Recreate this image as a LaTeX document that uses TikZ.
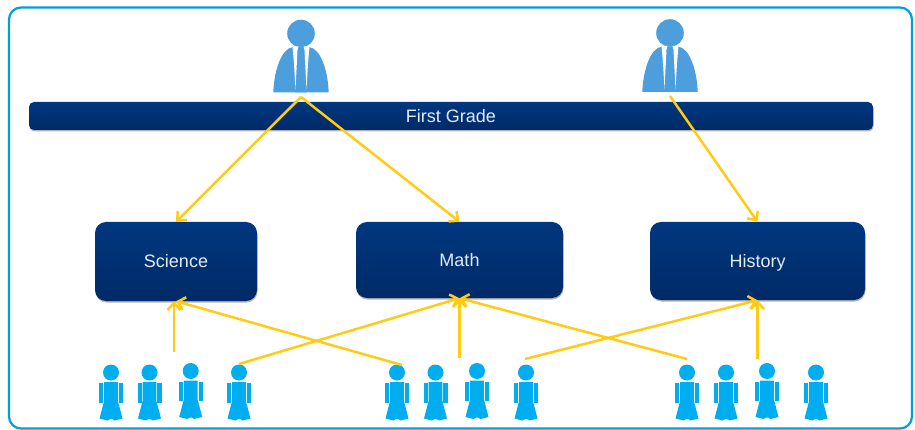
\documentclass[tikz,border=0pt]{standalone}
\usepackage{fontspec}
\setmainfont{Liberation Sans}
\usetikzlibrary{arrows.meta,shadows}
\definecolor{framecol}{HTML}{009FDA}
\definecolor{barTop}{HTML}{003780}
\definecolor{barBot}{HTML}{002A66}
\definecolor{teacherCol}{HTML}{4C9FDC}
\definecolor{studentCol}{HTML}{00AEEF}
\definecolor{linkCol}{HTML}{FFCB14}
\definecolor{labelCol}{HTML}{E4EBF6}
\tikzset{
  box/.style={rounded corners=11pt,top color=barTop,bottom color=barBot,inner sep=0pt,
    text=labelCol,font=\fontsize{18}{20}\selectfont,text height=15pt,text depth=2.5pt,
    drop shadow={shadow xshift=0.5pt,shadow yshift=-1.5pt,fill=black,opacity=0.3}},
  link/.style={draw=linkCol,line width=2.5pt,-{Straight Barb[length=7pt,width=13pt,line width=2.5pt]}},
  teacher/.pic={
    \fill[teacherCol] (0,0) circle (13.8);
    \fill[teacherCol] (-8,13.5) .. controls (-20,15) and (-27,38) .. (-27.7,59) -- (27.7,59) .. controls (27,38) and (20,15) .. (8,13.5) -- cycle;
    \fill[white] (-8.5,13) -- (-2.5,13) -- (-3.5,16.5) -- (-5.5,56) -- (-7,30) -- cycle;
    \fill[white] (8.5,13) -- (2.5,13) -- (3.5,16.5) -- (5.5,56) -- (7,30) -- cycle;
    \fill[teacherCol] (-3,15) -- (3,15) -- (2,20) -- (5.5,59) -- (-5.5,59) -- (-2,20) -- cycle;
  },
  student/.pic={
    \fill[studentCol] (0,0) circle (8);
    \fill[studentCol] (-12,10.5) rectangle (-7.8,30);
    \fill[studentCol] (7.8,10.5) rectangle (12,30);
    \fill[studentCol] (-6.8,9.5) -- (6.8,9.5) -- (6.8,28) -- (11.5,46) -- (3.5,48) -- (1,46.5) -- (-1,46.5) -- (-3.5,48) -- (-11.5,46) -- (-6.8,28) -- cycle;
  }
}
\begin{document}
\begin{tikzpicture}[x=1pt,y=-1pt]
\useasboundingbox (0,0) rectangle (915,430);

\draw [framecol,line width=2.2pt,rounded corners=12pt] (9,7.5) rectangle (912,428.5);

\node[box,minimum width=844pt,minimum height=28pt,rounded corners=5pt] (grade) at (451,116) {First Grade};
\node[box,minimum width=162pt,minimum height=79pt] (science) at (176,261.5) {Science};
\node[box,minimum width=207pt,minimum height=76pt] (math) at (459.5,260) {Math};
\node[box,minimum width=215pt,minimum height=78pt] (history) at (757.5,261) {History};

\pic at (301,33.5) {teacher};
\pic at (670,33) {teacher};

\pic at (111,372.5) {student};
\pic at (149.5,372.5) {student};
\pic at (190.7,371) {student};
\pic at (239,372.5) {student};
\pic at (397,372.5) {student};
\pic at (435.5,372.5) {student};
\pic at (477,371) {student};
\pic at (526,372.5) {student};
\pic at (687,372.5) {student};
\pic at (726,372.5) {student};
\pic at (767,371) {student};
\pic at (816,372.5) {student};

\coordinate (teachA) at (301,97);
\coordinate (teachB) at (670,96);
\coordinate (groupA) at (174,352);
\coordinate (groupAright) at (402,365);
\coordinate (groupBleft) at (239,364);
\coordinate (groupB) at (459.5,358);
\coordinate (groupBright) at (525,359);
\coordinate (groupCleft) at (687,359);
\coordinate (groupC) at (757.5,359);

\draw [link] (teachA) -- (science.north);
\draw [link] (teachA) -- (math.north);
\draw [link] (teachB) -- (history.north);
\draw [link] (groupA) -- (groupA |- science.south);
\draw [link] (groupAright) -- (science.south);
\draw [link] (groupBleft) -- (math.south);
\draw [link] (groupB) -- (math.south);
\draw [link] (groupCleft) -- (math.south);
\draw [link] (groupBright) -- (history.south);
\draw [link] (groupC) -- (history.south);

\end{tikzpicture}
\end{document}
